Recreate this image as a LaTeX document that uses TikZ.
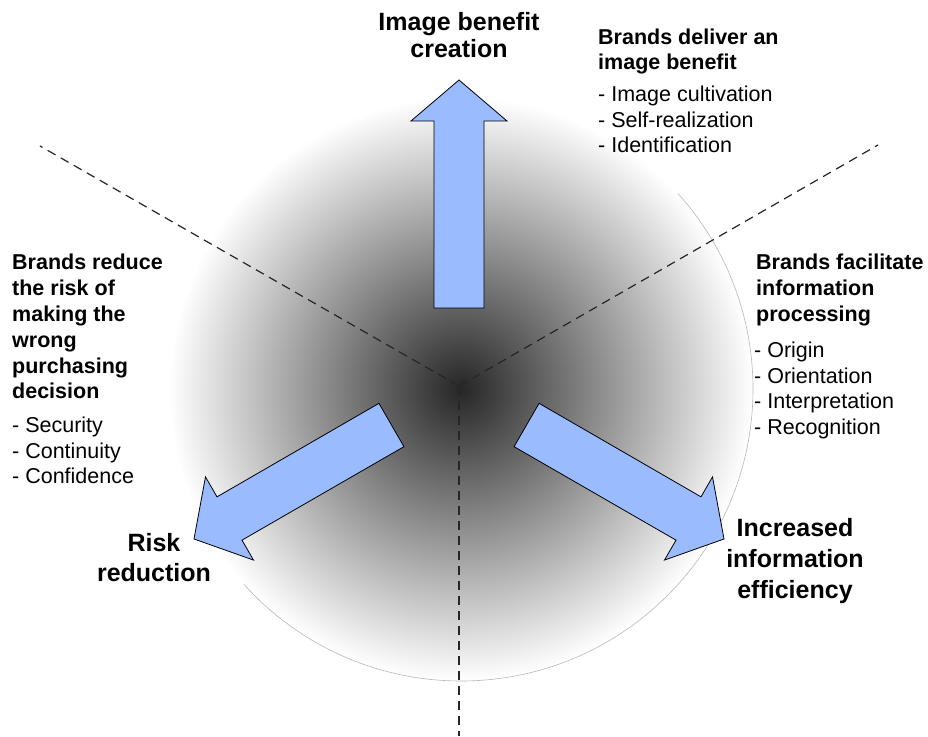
\documentclass[tikz,border=0pt]{standalone}
\usepackage{fontspec}
\setmainfont{Liberation Sans}
\definecolor{arrowblue}{RGB}{155,187,255}
\pgfdeclareradialshading{disc}{\pgfpoint{0bp}{0bp}}{color(0bp)=(black!85); color(25bp)=(white); color(50bp)=(white)}
\tikzset{
  arrowbox/.style={fill=arrowblue, draw=black, line width=0.8pt, line join=miter},
  divider/.style={draw=black!85, line width=1.2pt, dash pattern=on 9pt off 6pt},
  bigtitle/.style={inner sep=0pt, anchor=base, font=\fontsize{25}{27}\selectfont\bfseries},
  headline/.style={inner sep=0pt, anchor=base west, font=\fontsize{21.5}{25}\selectfont\bfseries},
  listline/.style={inner sep=0pt, anchor=base west, font=\fontsize{21.5}{25}\selectfont},
}
\begin{document}
\begin{tikzpicture}[x=1pt,y=1pt]
\useasboundingbox (0,0) rectangle (928,736);
\fill[white] (0,0) rectangle (928,736);
\coordinate (c) at (459,350);
\coordinate (disc) at (461,347);
\coordinate (ul) at (40,590);
\coordinate (ur) at (878,591);
\coordinate (bot) at (459,0);
% shaded disc
\shade[shading=disc] (disc) circle (292);
\draw[black!28, line width=0.6pt] ([shift={(222:292)}]disc) arc[start angle=222, end angle=402, radius=292];
% dividers
\draw[divider] (c) -- (ul);
\draw[divider] (c) -- (ur);
\draw[divider] (c) -- (bot);
% block arrows
\foreach \a in {0,120,240}{
  \draw[arrowbox, shift={(c)}, rotate=\a]
    (-25,78) -- (25,78) -- (25,265) -- (48,265) -- (0,306) -- (-48,265) -- (-25,265) -- cycle;
}
% titles
\node[bigtitle] (img1) at (459,705.5) {Image benefit};
\node[bigtitle] (img2) at (459,678.5) {creation};
\node[bigtitle] (risk1) at (154,184) {Risk};
\node[bigtitle] (risk2) at (154,154) {reduction};
\node[bigtitle] (inf1) at (795,199) {Increased};
\node[bigtitle] (inf2) at (795,168.5) {information};
\node[bigtitle] (inf3) at (795,138) {efficiency};
% top right block
\node[headline] (tr1) at (598,691) {Brands deliver an};
\node[headline] (tr2) at (598,666) {image benefit};
\node[listline] (tr3) at (598,634) {- Image cultivation};
\node[listline] (tr4) at (598,608.5) {- Self-realization};
\node[listline] (tr5) at (598,583) {- Identification};
% left block
\node[headline] (l1) at (12,466) {Brands reduce};
\node[headline] (l2) at (12,440.2) {the risk of};
\node[headline] (l3) at (12,414.4) {making the};
\node[headline] (l4) at (12,388.6) {wrong};
\node[headline] (l5) at (12,362.8) {purchasing};
\node[headline] (l6) at (12,337) {decision};
\node[listline] (l7) at (12,303) {- Security};
\node[listline] (l8) at (12,277.5) {- Continuity};
\node[listline] (l9) at (12,252) {- Confidence};
% right block
\node[headline] (r1) at (756,466) {Brands facilitate};
\node[headline] (r2) at (756,440.2) {information};
\node[headline] (r3) at (756,414.4) {processing};
\node[listline] (r4) at (754,378) {- Origin};
\node[listline] (r5) at (754,352.5) {- Orientation};
\node[listline] (r6) at (754,327) {- Interpretation};
\node[listline] (r7) at (754,301.5) {- Recognition};
\end{tikzpicture}
\end{document}
